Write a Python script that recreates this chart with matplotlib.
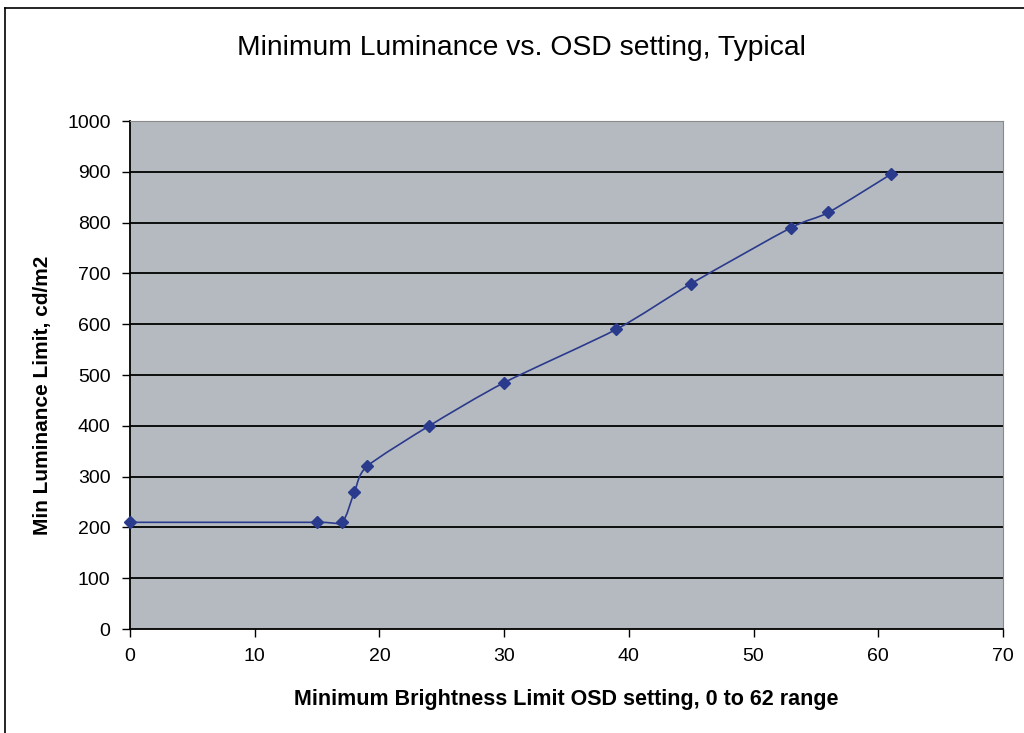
import matplotlib
matplotlib.use("Agg")
import matplotlib.pyplot as plt
from matplotlib.path import Path
from matplotlib.patches import PathPatch
from matplotlib.lines import Line2D
import numpy as np

# data
osd_setting = [0, 15, 17, 18, 19, 24, 30, 39, 45, 53, 56, 61]
min_luminance = [210, 210, 210, 270, 320, 400, 485, 590, 680, 790, 820, 895]

x_ticks = [0, 10, 20, 30, 40, 50, 60, 70]
y_ticks = [0, 100, 200, 300, 400, 500, 600, 700, 800, 900, 1000]

title = "Minimum Luminance vs. OSD setting, Typical"
x_label = "Minimum Brightness Limit OSD setting, 0 to 62 range"
y_label = "Min Luminance Limit, cd/m2"

plt.rcParams['font.family'] = ['Liberation Sans', 'DejaVu Sans']

fig = plt.figure(figsize=(10.24, 7.33), dpi=100)
ax = fig.add_axes([130/1024, 1-629/733, (1003-130)/1024, (629-121)/733])
ax.set_facecolor('#b5bac0')

line_col = '#2a3a8c'

# smoothed line, like the spreadsheet's smoothed scatter: Catmull-Rom as Bezier segments
xs = np.array(osd_setting, dtype=float)
ys = np.array(min_luminance, dtype=float)
verts = [(xs[0], ys[0])]
codes = [Path.MOVETO]
n = len(xs)
for i in range(n-1):
    p0 = (xs[max(i-1, 0)], ys[max(i-1, 0)])
    p1 = (xs[i], ys[i])
    p2 = (xs[i+1], ys[i+1])
    p3 = (xs[min(i+2, n-1)], ys[min(i+2, n-1)])
    t = 1/8.0
    c1 = (p1[0] + (p2[0]-p0[0])*t, p1[1] + (p2[1]-p0[1])*t)
    c2 = (p2[0] - (p3[0]-p1[0])*t, p2[1] - (p3[1]-p1[1])*t)
    verts += [c1, c2, p2]
    codes += [Path.CURVE4]*3
ax.add_patch(PathPatch(Path(verts, codes), facecolor='none', edgecolor=line_col, lw=1.2, zorder=3))
ax.plot(osd_setting, min_luminance, ls='none', marker='D', ms=6, color=line_col, zorder=4, clip_on=False)

ax.set_xlim(0, 70)
ax.set_ylim(0, 1000)
ax.set_xticks(x_ticks)
ax.set_yticks(y_ticks)
ax.tick_params(direction='out', length=6, width=1, color='black', labelsize=14, pad=8)
for yv in y_ticks[1:-1]:
    ax.axhline(yv, color='black', lw=1.3, zorder=1)

ax.spines['left'].set_color('black')
ax.spines['bottom'].set_color('black')
ax.spines['left'].set_linewidth(1.3)
ax.spines['bottom'].set_linewidth(1.3)
ax.spines['top'].set_color('#8a8a8a')
ax.spines['right'].set_color('#8a8a8a')

ax.set_xlabel(x_label, fontsize=15.5, fontweight='bold')
ax.xaxis.set_label_coords(0.5, -(700-629)/508, transform=ax.transAxes)
ax.xaxis.label.set_va('center')
ax.set_ylabel(y_label, fontsize=15, fontweight='bold')
ax.yaxis.set_label_coords(-(130-43)/873, (629-395)/508, transform=ax.transAxes)
ax.yaxis.label.set_va('center')
fig.text(521/1024, 1-48/733, title, ha='center', va='center', fontsize=20.3)

# chart border (cropped at right and bottom)
fig.add_artist(Line2D([5/1024, 5/1024], [0, 1-8/733], color='black', lw=1.2))
fig.add_artist(Line2D([5/1024, 1], [1-8/733, 1-8/733], color='black', lw=1.2))

fig.savefig("out.png", dpi=100, facecolor='white')
